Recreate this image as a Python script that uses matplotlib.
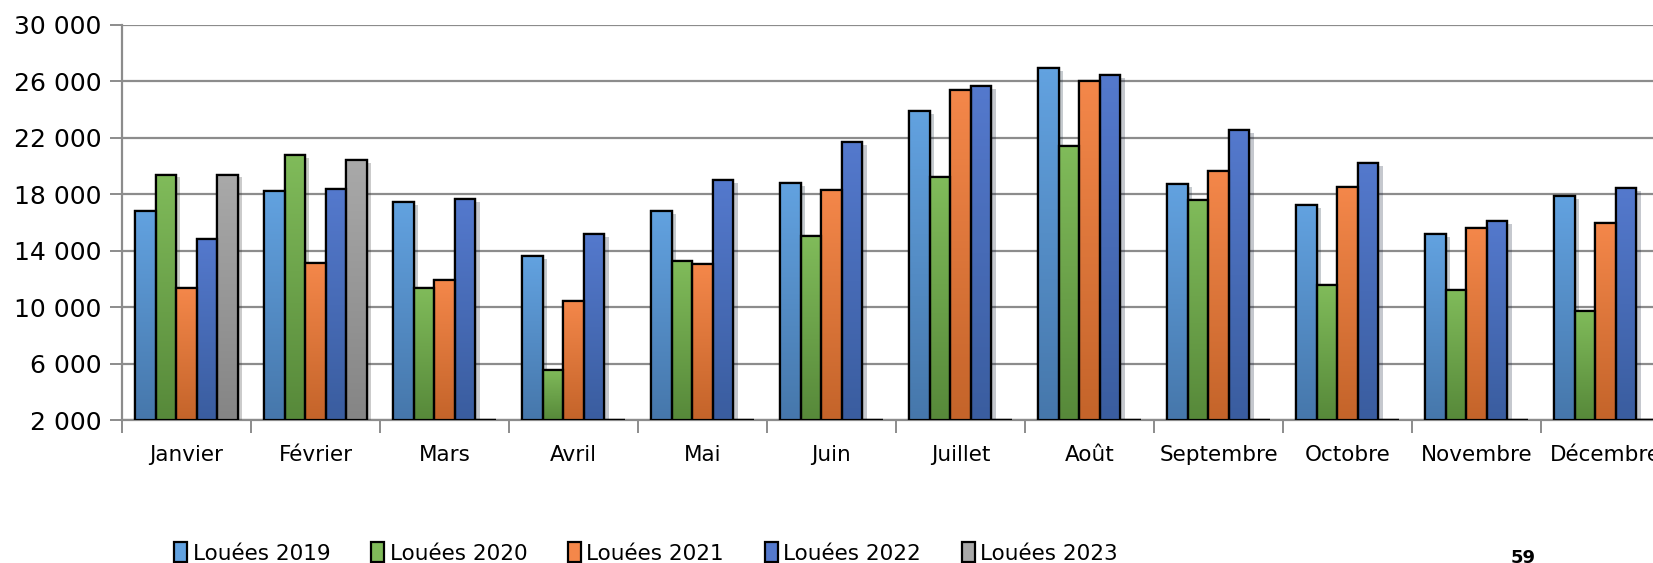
import matplotlib.pyplot as plt
import numpy as np
from matplotlib.colors import LinearSegmentedColormap
from matplotlib.patches import Patch
from matplotlib import patheffects as pe

plt.rcParams['font.family'] = ['DejaVu Sans']

# Données
mois = ['Janvier', 'Février', 'Mars', 'Avril', 'Mai', 'Juin', 'Juillet',
        'Août', 'Septembre', 'Octobre', 'Novembre', 'Décembre']
louees_2019 = [16820, 18240, 17460, 13600, 16820, 18800, 23920, 26950, 18730, 17240, 15180, 17860]
louees_2020 = [19400, 20790, 11350, 5570, 13270, 15020, 19210, 21430, 17620, 11540, 11210, 9760]
louees_2021 = [11350, 13100, 11920, 10470, 13030, 18310, 25410, 26050, 19660, 18520, 15610, 15960]
louees_2022 = [14830, 18350, 17650, 15180, 19020, 21720, 25670, 26470, 22570, 20220, 16110, 18430]
louees_2023 = [19400, 20440, 0, 0, 0, 0, 0, 0, 0, 0, 0, 0]

series = [('Louées 2019', louees_2019), ('Louées 2020', louees_2020),
          ('Louées 2021', louees_2021), ('Louées 2022', louees_2022),
          ('Louées 2023', louees_2023)]
# couleur haut / bas pour le dégradé
couleurs = [('#62a2e0', '#4677ab'), ('#80bb5a', '#57893a'), ('#f4874a', '#c4642a'),
            ('#5479cd', '#3a5d9f'), ('#a9a9a9', '#858585')]

fig = plt.figure(figsize=(16.53, 5.63), dpi=100)
ax = fig.add_axes([122 / 1653, 1 - 420 / 563, 1548 / 1653, 395 / 563])

ymin = 2000
x = np.arange(len(mois))
largeur = 0.16
for i, (nom, vals) in enumerate(series):
    pos = x - 0.4 + largeur * (i + 0.5)
    haut = [max(v - ymin, 0) for v in vals]
    cmap = LinearSegmentedColormap.from_list(nom, [couleurs[i][1], couleurs[i][0]])
    bars = ax.bar(pos, haut, largeur, bottom=ymin, facecolor=couleurs[i][0],
                  edgecolor='black', linewidth=1.6, zorder=3)
    for b in bars:
        b.set_path_effects([pe.SimplePatchShadow(offset=(3, -2), alpha=0.25), pe.Normal()])
        h = b.get_height()
        if h > 0:
            grad = np.linspace(0, 1, 100).reshape(-1, 1)
            im = ax.imshow(grad, cmap=cmap, origin='lower', aspect='auto', zorder=3.5,
                           extent=[b.get_x(), b.get_x() + b.get_width(), ymin, ymin + h])
            im.set_clip_path(b)
        ax.bar(b.get_x(), h, b.get_width(), bottom=ymin, align='edge',
               facecolor='none', edgecolor='black', linewidth=1.6, zorder=4)

ax.set_xlim(-0.5, 11.5)
ax.set_ylim(ymin, 30000)
ax.set_yticks(range(2000, 30001, 4000))
ax.set_yticklabels([f'{v:,}'.replace(',', ' ') for v in range(2000, 30001, 4000)], fontsize=18)
ax.yaxis.grid(True, color='#8c8c8c', linewidth=1.6, zorder=0)
ax.set_axisbelow(True)

ax.set_xticks(np.arange(-0.5, 12, 1))
ax.set_xticklabels([])
ax.set_xticks(x, minor=True)
ax.set_xticklabels(mois, minor=True, fontsize=15.5)
ax.tick_params(axis='x', which='minor', length=0, pad=18)
ax.tick_params(axis='x', which='major', length=9, width=1.4, color='#8c8c8c')
ax.tick_params(axis='y', length=9, width=1.4, color='#8c8c8c', pad=6)

for s in ['top', 'right']:
    ax.spines[s].set_visible(False)
for s in ['left', 'bottom']:
    ax.spines[s].set_color('#8c8c8c')
    ax.spines[s].set_linewidth(1.6)

handles = [Patch(facecolor=couleurs[i][0], edgecolor='black', linewidth=1.6) for i in range(5)]
fig.legend(handles, [s[0] for s in series], loc='center left', ncol=5,
           bbox_to_anchor=(155 / 1653, 1 - 553 / 563), frameon=False, fontsize=15.5,
           handlelength=0.6, handleheight=1.0, handletextpad=0.25, columnspacing=1.9)

fig.text(1523 / 1653, 1 - 558 / 563, '59', fontsize=13, fontweight='bold', ha='center', va='center')

fig.savefig('out.png', dpi=100)
